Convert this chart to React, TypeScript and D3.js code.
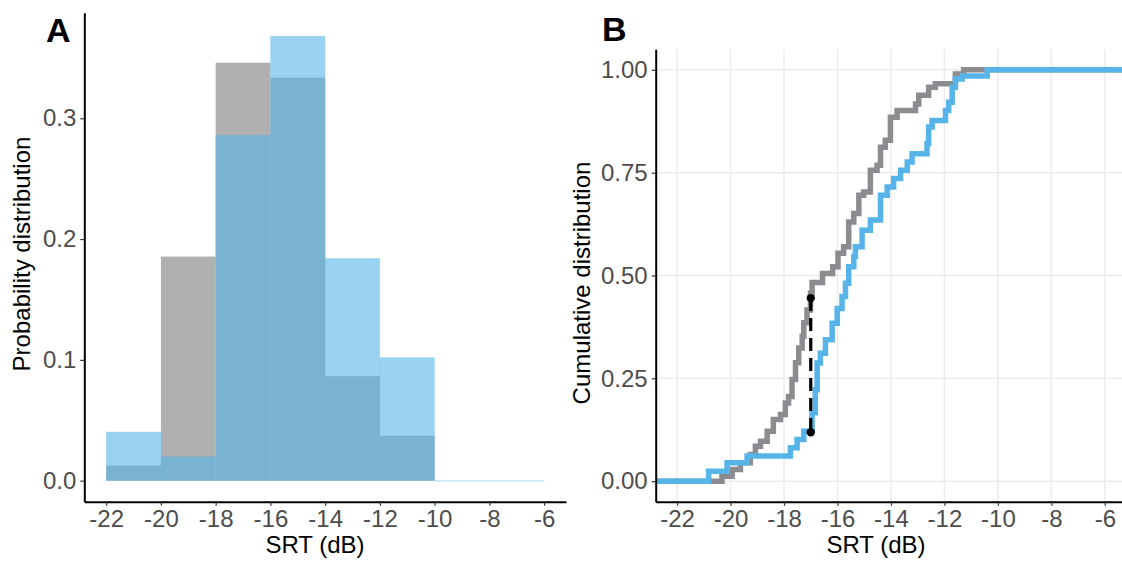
import React, { useRef, useEffect } from "react";
import * as d3 from "d3";

// histogram bins (dB) and per-bin probabilities
const binEdges = [-22, -20, -18, -16, -14, -12, -10, -8, -6];
const grayProb = [0.0125, 0.1855, 0.346, 0.3336, 0.0865, 0.0372];
const blueProb = [0.0404, 0.0199, 0.286, 0.368, 0.184, 0.102, 0, 0];

// ECDF jumps: SRT value and cumulative proportion after the jump
const grayStepX = [
  -20.32, -19.94, -19.63, -19.26, -19.07, -18.88, -18.63, -18.4, -18.13, -17.95,
  -17.83, -17.7, -17.57, -17.45, -17.32, -17.26, -17.14, -17.01, -16.95, -16.56,
  -16.18, -15.98, -15.77, -15.58, -15.39, -15.2, -15.02, -14.77, -14.52, -14.39,
  -14.21, -14.02, -13.77, -13.08, -12.96, -12.59, -12.34, -11.59, -11.28,
];
const grayStepY = [
  0.012, 0.028, 0.045, 0.065, 0.085, 0.097, 0.121, 0.15, 0.162, 0.19,
  0.206, 0.247, 0.288, 0.324, 0.352, 0.385, 0.416, 0.457, 0.483, 0.505,
  0.521, 0.554, 0.57, 0.63, 0.651, 0.695, 0.703, 0.756, 0.768, 0.812,
  0.829, 0.885, 0.901, 0.917, 0.938, 0.958, 0.966, 0.99, 1.0,
];
const blueStepX = [
  -20.82, -20.13, -19.38, -17.76, -17.51, -17.26, -16.95, -16.83, -16.76, -16.64,
  -16.45, -16.2, -16.01, -15.83, -15.7, -15.58, -15.39, -15.33, -15.08, -14.77,
  -14.39, -14.14, -13.9, -13.64, -13.39, -13.21, -12.65, -12.59, -12.46, -11.96,
  -11.84, -11.71, -11.59, -11.34, -10.4,
];
const blueStepY = [
  0.024, 0.045, 0.061, 0.081, 0.101, 0.121, 0.166, 0.222, 0.287, 0.311,
  0.344, 0.384, 0.42, 0.449, 0.481, 0.521, 0.546, 0.57, 0.61, 0.635,
  0.695, 0.715, 0.736, 0.756, 0.776, 0.796, 0.821, 0.861, 0.877, 0.901,
  0.921, 0.958, 0.978, 0.985, 1.0,
];

// KS statistic segment
const ksX = -17.0;
const ksLow = 0.119;
const ksHigh = 0.445;

const xTicks = [-22, -20, -18, -16, -14, -12, -10, -8, -6];
const histYTicks = [0, 0.1, 0.2, 0.3];
const cdfYTicks = [0, 0.25, 0.5, 0.75, 1];

const BLUE = "#56B4E9";
const GRAY_BAR = "#B0B0B0";
const GRAY_LINE = "#8C8C90";
const FONT = "'Liberation Sans', Arial, Helvetica, sans-serif";

const App = () => {
  const svgRef = useRef(null);

  useEffect(() => {
    const svg = d3.select(svgRef.current);
    svg.selectAll("*").remove();

    const styleAxis = (g, isX) => {
      g.select(".domain").attr("stroke", "#000").attr("stroke-width", 2);
      g.selectAll(".tick line").attr("stroke", "#333").attr("stroke-width", 1.2);
      g.selectAll(".tick text")
        .attr("fill", "#4D4D4D")
        .style("font-family", FONT)
        .style("font-size", "24px");
      if (isX) g.selectAll(".tick text").attr("dy", "0.71em").attr("y", 8);
      else g.selectAll(".tick text").attr("x", -8);
    };

    // ---------- Panel A: histogram ----------
    const xA = d3.scaleLinear().domain([-22.8, -5.2]).range([84.3, 566]);
    const yA = d3.scaleLinear().domain([-0.0174, 0.3874]).range([501.7, 12.7]);

    const gA = svg.append("g");

    gA.selectAll(".bar-gray")
      .data(grayProb)
      .join("rect")
      .attr("class", "bar-gray")
      .attr("x", (d, i) => xA(binEdges[i]))
      .attr("width", (d, i) => xA(binEdges[i + 1]) - xA(binEdges[i]))
      .attr("y", (d) => yA(d))
      .attr("height", (d) => yA(0) - yA(d))
      .attr("fill", GRAY_BAR);

    gA.selectAll(".bar-blue")
      .data(blueProb)
      .join("rect")
      .attr("class", "bar-blue")
      .attr("x", (d, i) => xA(binEdges[i]))
      .attr("width", (d, i) => xA(binEdges[i + 1]) - xA(binEdges[i]))
      .attr("y", (d) => yA(d))
      .attr("height", (d) => Math.max(yA(0) - yA(d), 0.6))
      .attr("fill", BLUE)
      .attr("fill-opacity", 0.6)
      .attr("stroke", BLUE)
      .attr("stroke-opacity", 0.12)
      .attr("stroke-width", 0.8);

    gA.append("g")
      .attr("transform", `translate(0,${yA.range()[0]})`)
      .call(
        d3.axisBottom(xA).tickValues(xTicks).tickFormat((d) => String(d)).tickSize(4).tickSizeOuter(0)
      )
      .call((g) => styleAxis(g, true));

    gA.append("g")
      .attr("transform", `translate(${xA.range()[0]},0)`)
      .call(
        d3.axisLeft(yA).tickValues(histYTicks).tickFormat((d) => d.toFixed(1)).tickSize(4).tickSizeOuter(0)
      )
      .call((g) => styleAxis(g, false));

    gA.append("text")
      .attr("x", 315)
      .attr("y", 553)
      .attr("text-anchor", "middle")
      .style("font-family", FONT)
      .style("font-size", "24px")
      .text("SRT (dB)");

    gA.append("text")
      .attr("transform", "translate(30,254) rotate(-90)")
      .attr("text-anchor", "middle")
      .style("font-family", FONT)
      .style("font-size", "24px")
      .text("Probability distribution");

    gA.append("text")
      .attr("x", 46)
      .attr("y", 41.5)
      .style("font-family", FONT)
      .style("font-weight", "bold")
      .style("font-size", "34px")
      .text("A");

    // ---------- Panel B: cumulative distribution ----------
    const xB = d3.scaleLinear().domain([-22.8, -5.2]).range([655.7, 1126.2]);
    const yB = d3.scaleLinear().domain([-0.05, 1.05]).range([501.7, 49.3]);

    const gB = svg.append("g");

    gB.selectAll(".vgrid")
      .data(xTicks)
      .join("line")
      .attr("class", "vgrid")
      .attr("x1", (d) => xB(d))
      .attr("x2", (d) => xB(d))
      .attr("y1", yB.range()[0])
      .attr("y2", yB.range()[1])
      .attr("stroke", "#EBEBEB")
      .attr("stroke-width", 1.5);

    gB.selectAll(".hgrid")
      .data(cdfYTicks)
      .join("line")
      .attr("class", "hgrid")
      .attr("x1", xB.range()[0])
      .attr("x2", xB.range()[1])
      .attr("y1", (d) => yB(d))
      .attr("y2", (d) => yB(d))
      .attr("stroke", "#EBEBEB")
      .attr("stroke-width", 1.5);

    const [xMin, xMax] = xB.domain();
    const ecdfPoints = (xs, ys) => [
      [xMin, 0],
      ...xs.map((x, i) => [x, ys[i]]),
      [xMax, 1],
    ];
    const step = d3
      .line()
      .curve(d3.curveStepAfter)
      .x((d) => xB(d[0]))
      .y((d) => yB(d[1]));

    gB.append("path")
      .attr("d", step(ecdfPoints(grayStepX, grayStepY)))
      .attr("fill", "none")
      .attr("stroke", GRAY_LINE)
      .attr("stroke-width", 5.5);

    gB.append("path")
      .attr("d", step(ecdfPoints(blueStepX, blueStepY)))
      .attr("fill", "none")
      .attr("stroke", BLUE)
      .attr("stroke-width", 5.5);

    gB.append("line")
      .attr("x1", xB(ksX))
      .attr("x2", xB(ksX))
      .attr("y1", yB(ksHigh))
      .attr("y2", yB(ksLow))
      .attr("stroke", "#000")
      .attr("stroke-width", 3.2)
      .attr("stroke-dasharray", "13,7");

    gB.selectAll(".ks-dot")
      .data([ksHigh, ksLow])
      .join("circle")
      .attr("class", "ks-dot")
      .attr("cx", xB(ksX))
      .attr("cy", (d) => yB(d))
      .attr("r", 4.2)
      .attr("fill", "#000");

    gB.append("g")
      .attr("transform", `translate(0,${yB.range()[0]})`)
      .call(
        d3.axisBottom(xB).tickValues(xTicks).tickFormat((d) => String(d)).tickSize(4).tickSizeOuter(0)
      )
      .call((g) => styleAxis(g, true));

    gB.append("g")
      .attr("transform", `translate(${xB.range()[0]},0)`)
      .call(
        d3.axisLeft(yB).tickValues(cdfYTicks).tickFormat((d) => d.toFixed(2)).tickSize(4).tickSizeOuter(0)
      )
      .call((g) => styleAxis(g, false));

    gB.append("text")
      .attr("x", 876)
      .attr("y", 553)
      .attr("text-anchor", "middle")
      .style("font-family", FONT)
      .style("font-size", "24px")
      .text("SRT (dB)");

    gB.append("text")
      .attr("transform", "translate(590,283) rotate(-90)")
      .attr("text-anchor", "middle")
      .style("font-family", FONT)
      .style("font-size", "24px")
      .text("Cumulative distribution");

    gB.append("text")
      .attr("x", 602)
      .attr("y", 41)
      .style("font-family", FONT)
      .style("font-weight", "bold")
      .style("font-size", "34px")
      .text("B");
  }, []);

  return (
    <svg
      ref={svgRef}
      width={1122}
      height={561}
      style={{ position: "absolute", left: 0, top: 0, background: "#fff" }}
    ></svg>
  );
};

export default App;
